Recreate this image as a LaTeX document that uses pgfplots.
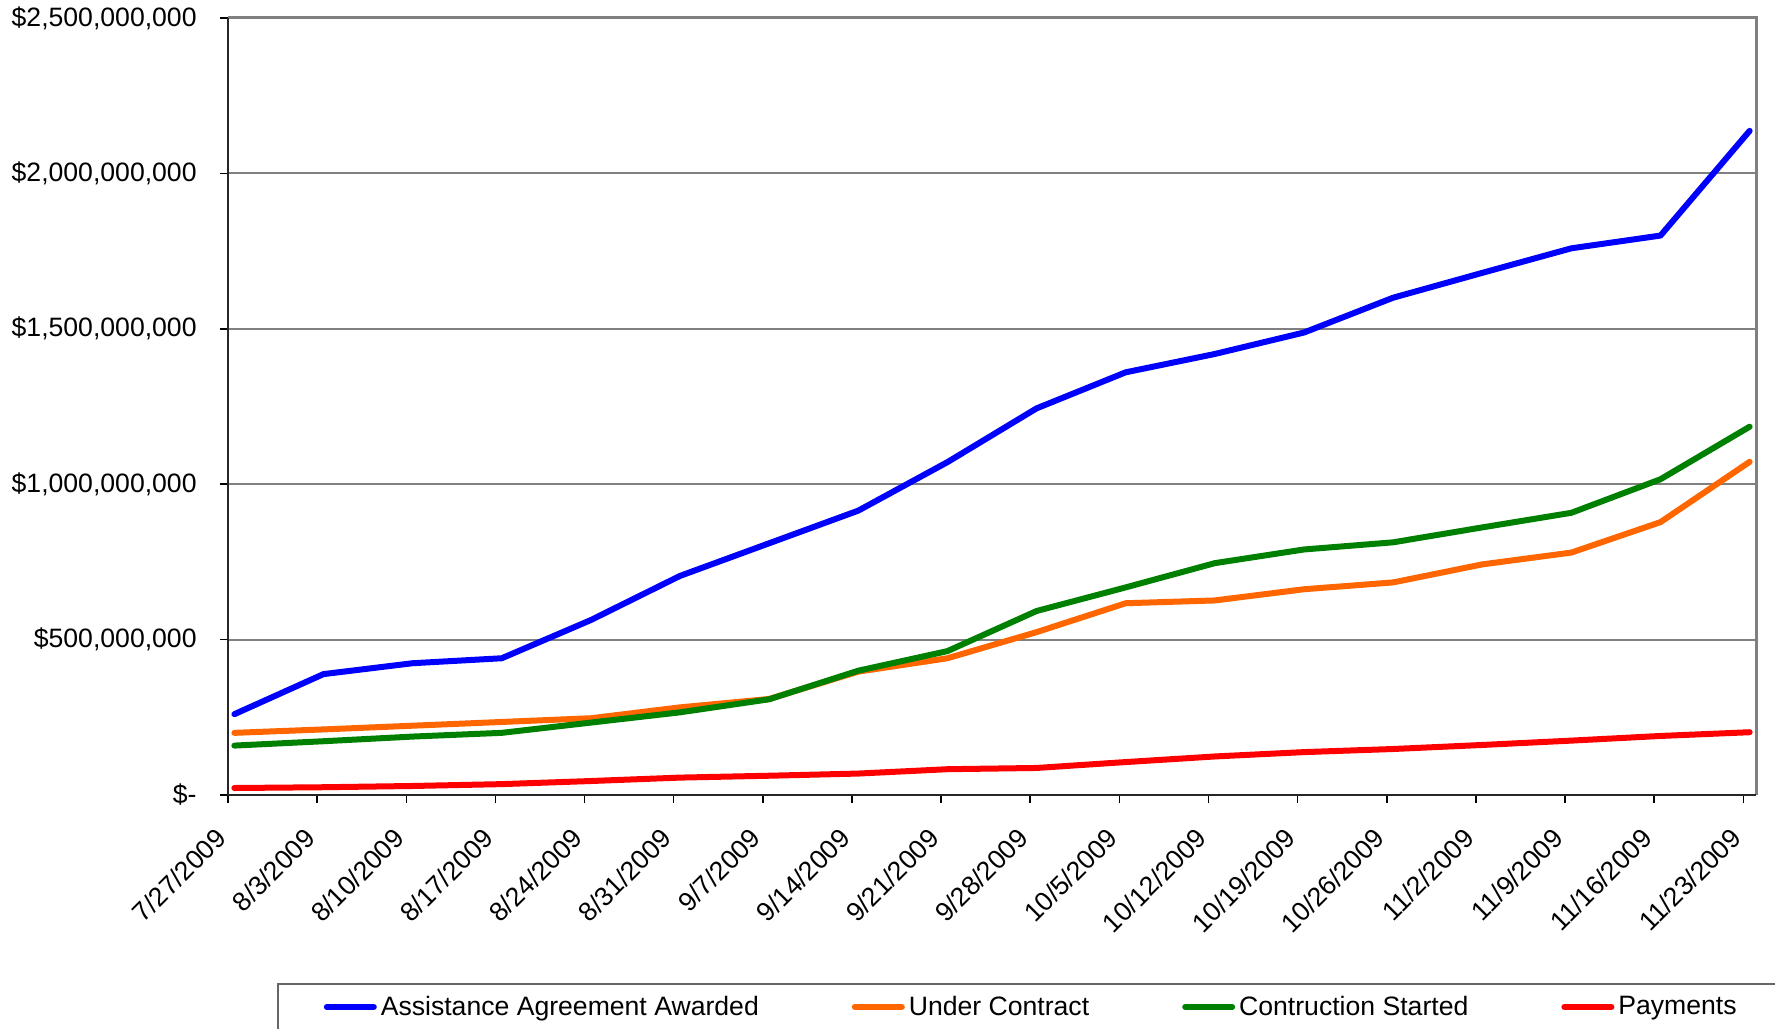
\documentclass[border=0pt]{standalone}
\usepackage{pgfplots}
\pgfplotsset{compat=1.18}
\usepackage{fontspec}
\setmainfont{Liberation Sans}
\definecolor{cBlue}{RGB}{0,0,255}
\definecolor{cOrange}{RGB}{255,102,0}
\definecolor{cGreen}{RGB}{0,128,0}
\definecolor{cRed}{RGB}{255,0,0}
\definecolor{gridgray}{RGB}{128,128,128}
\pgfplotstableread{
day awarded contract started payments
0.5   260  200  159  22.5
7.5   389  211  173  25
14.5  424  223  188  29
21.5  440  235  200  35
28.5  563  247  233  45
35.5  705  282  266  56
42.5  810  309  308  62
49.5  915  397  400  69
56.5  1071 440  463  83
63.5  1244 524  592  87
70.5  1360 617  668  106
77.5  1419 626  746  124
84.5  1488 662  790  138
91.5  1600 684  813  148
98.5  1680 742  861  161
105.5 1759 780  908  175
112.5 1800 878  1016 190
119.5 2137 1072 1185 202
}\datatable
\begin{document}
\begin{tikzpicture}
\begin{axis}[
  at={(0,0)}, anchor=south west,
  scale only axis, width=764pt, height=388.5pt,
  xmin=0, xmax=120, ymin=0, ymax=2500,
  axis line style={draw=none},
  xtick={0,7,14,21,28,35,42,49,56,63,70,77,84,91,98,105,112,119},
  xticklabels={7/27/2009,8/3/2009,8/10/2009,8/17/2009,8/24/2009,8/31/2009,9/7/2009,9/14/2009,9/21/2009,9/28/2009,10/5/2009,10/12/2009,10/19/2009,10/26/2009,11/2/2009,11/9/2009,11/16/2009,11/23/2009},
  ytick={0,500,1000,1500,2000,2500},
  yticklabels={{\$-},{\$500,000,000},{\$1,000,000,000},{\$1,500,000,000},{\$2,000,000,000},{\$2,500,000,000}},
  scaled y ticks=false,
  tick pos=left,
  tick align=outside,
  major tick length=4pt,
  tick style={black, line width=0.75pt},
  ymajorgrids,
  grid style={gridgray, line width=1pt},
  tick label style={font=\fontsize{13.3}{16}\selectfont},
  yticklabel style={anchor=east, inner sep=0pt, xshift=-11.5pt},
  xticklabel style={xshift=-7pt, yshift=-11.5pt, rotate=45, anchor=north east, inner sep=0pt},
  legend columns=4,
  legend style={at={(axis description cs:0.0321,-0.242)}, anchor=north west,
    draw=black!60, line width=0.75pt, inner xsep=23pt, inner ysep=6pt,
    font=\fontsize{13.3}{16}\selectfont,
    nodes={inner sep=0pt},
    /tikz/every odd column/.append style={column sep=2pt},
    /tikz/every even column/.append style={column sep=46.5pt}},
  legend image code/.code={\draw[#1, line width=3pt, line cap=round] (1.5pt,0pt) -- (25pt,0pt);},
  every axis plot/.append style={line width=3pt, line join=round, line cap=round},
  after end axis/.code={
    \draw[gridgray, line width=1.5pt] (rel axis cs:0,1) -- (rel axis cs:1,1) -- (rel axis cs:1,0);
    \draw[black!85, line width=1pt] (rel axis cs:0,1) -- (rel axis cs:0,0) -- (rel axis cs:1,0);
  },
]
\addplot[cBlue] table[x=day, y=awarded] {\datatable};
\addlegendentry{Assistance Agreement Awarded}
\addplot[cOrange] table[x=day, y=contract] {\datatable};
\addlegendentry{Under Contract}
\addplot[cGreen] table[x=day, y=started] {\datatable};
\addlegendentry{Contruction Started}
\addplot[cRed] table[x=day, y=payments] {\datatable};
\addlegendentry{Payments}
\end{axis}
\pgfresetboundingbox
\path[use as bounding box] (-114pt,-116.5pt) rectangle (773.5pt,397.5pt);
\end{tikzpicture}
\end{document}
